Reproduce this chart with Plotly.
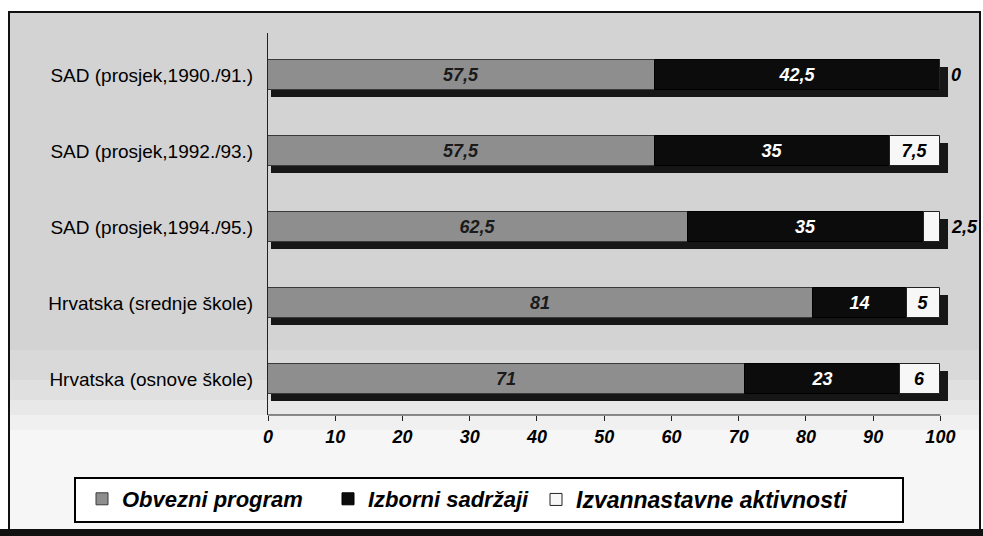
import plotly.graph_objects as go

categories = [
    "SAD (prosjek,1990./91.)",
    "SAD (prosjek,1992./93.)",
    "SAD (prosjek,1994./95.)",
    "Hrvatska (srednje škole)",
    "Hrvatska (osnove škole)",
]
obvezni = [57.5, 57.5, 62.5, 81, 71]
izborni = [42.5, 35, 35, 14, 23]
izvannastavne = [0, 7.5, 2.5, 5, 6]
series_names = ["Obvezni program", "Izborni sadržaji", "Izvannastavne aktivnosti"]
x_ticks = [0, 10, 20, 30, 40, 50, 60, 70, 80, 90, 100]

W, H = 983, 536
L, R, T, B = 268, 9, 33, 121
PW, PH = W - L - R, H - T - B

def px_x(p):
    return (p - L) / PW

def px_y(p):
    return (H - B - p) / PH

def fmt(v):
    return f"{v:g}".replace(".", ",")

FONT = "Liberation Sans, Arial, sans-serif"
totals = [a + b + c for a, b, c in zip(obvezni, izborni, izvannastavne)]
base2 = list(obvezni)
base3 = [a + b for a, b in zip(obvezni, izborni)]

FACE_OFF, FACE_W = -0.197, 0.395
SH_DY = 0.095

fig = go.Figure()

# 3D depth / shadow
fig.add_trace(go.Bar(
    y=categories, x=[t + 0.7 for t in totals], base=[0.45] * len(totals),
    orientation="h", offset=FACE_OFF + SH_DY, width=FACE_W,
    marker=dict(color="#161616", line=dict(width=0)),
    showlegend=False, hoverinfo="skip",
))

label_font = dict(family=FONT, size=18, weight="bold", style="italic")

fig.add_trace(go.Bar(
    y=categories, x=obvezni, base=[0] * len(obvezni), orientation="h",
    name=series_names[0], offset=FACE_OFF, width=FACE_W, legend="legend",
    marker=dict(color="#8e8e8e", line=dict(color="#3a3a3a", width=1)),
    text=[fmt(v) for v in obvezni], textposition="inside",
    insidetextanchor="middle", textangle=0,
    textfont=dict(color="#1a1a1a", **label_font),
))
fig.add_trace(go.Bar(
    y=categories, x=izborni, base=base2, orientation="h",
    name=series_names[1], offset=FACE_OFF, width=FACE_W, legend="legend2",
    marker=dict(color="#0c0c0c", line=dict(color="#000000", width=1)),
    text=[fmt(v) for v in izborni], textposition="inside",
    insidetextanchor="middle", textangle=0,
    textfont=dict(color="#ffffff", **label_font),
))
fig.add_trace(go.Bar(
    y=categories, x=izvannastavne, base=base3, orientation="h",
    name=series_names[2], offset=FACE_OFF, width=FACE_W, legend="legend3",
    marker=dict(color="#f7f7f7", line=dict(color="#222222", width=1)),
    text=[fmt(v) if v >= 4 else "" for v in izvannastavne], textposition="inside",
    insidetextanchor="middle", textangle=0,
    textfont=dict(color="#000000", **label_font),
))

annotations = []
for cat, v, t in zip(categories, izvannastavne, totals):
    if v < 4:
        annotations.append(dict(
            x=t, y=cat, xref="x", yref="y", text=fmt(v), showarrow=False,
            xanchor="left", xshift=9, font=dict(color="#000000", **label_font),
        ))

shapes = [
    # frame
    dict(type="rect", xref="paper", yref="paper", layer="below",
         x0=px_x(9), x1=px_x(980), y0=px_y(530), y1=px_y(12),
         fillcolor="#f6f6f6", line=dict(color="#111111", width=2)),
]
# soft fade of the grey scanned background
fade = [(430, "#f0f0f0"), (415, "#e8e8e8"), (400, "#e0e0e0"), (380, "#d9d9d9"), (350, "#d3d3d3")]
for bottom, col in fade:
    shapes.append(dict(type="rect", xref="paper", yref="paper", layer="below",
                       x0=px_x(10), x1=px_x(979), y0=px_y(bottom), y1=px_y(13),
                       fillcolor=col, line=dict(width=0)))
shapes += [
    # legend box
    dict(type="rect", xref="paper", yref="paper", layer="below",
         x0=px_x(75), x1=px_x(903), y0=px_y(522), y1=px_y(478),
         fillcolor="#ffffff", line=dict(color="#000000", width=2)),
    # bottom dark band
    dict(type="rect", xref="paper", yref="paper", layer="below",
         x0=px_x(0), x1=px_x(983), y0=px_y(536), y1=px_y(529),
         fillcolor="#111111", line=dict(width=0)),
    # x axis line from 0 to 100
    dict(type="line", xref="x", yref="paper", layer="above",
         x0=x_ticks[0], x1=x_ticks[-1], y0=0, y1=0,
         line=dict(color="#222222", width=1)),
]

def legend_at(x_px, size=22):
    return dict(
        orientation="h", xref="container", yref="container",
        x=x_px / W, y=(H - 478) / H, xanchor="left", yanchor="top",
        bgcolor="rgba(0,0,0,0)", borderwidth=0,
        font=dict(family=FONT, size=size, weight="bold", style="italic", color="#000000"),
        itemwidth=30,
    )

fig.update_layout(
    width=W, height=H,
    margin=dict(l=L, r=R, t=T, b=B, pad=0),
    paper_bgcolor="#ffffff", plot_bgcolor="rgba(0,0,0,0)",
    barmode="overlay", bargap=0,
    font=dict(family=FONT, color="#000000"),
    xaxis=dict(
        range=[0, 105], tickvals=x_ticks, ticktext=[str(v) for v in x_ticks],
        showgrid=False, zeroline=False, showline=False,
        ticks="outside", ticklen=5, tickcolor="#222222", tickwidth=1,
        tickfont=dict(family=FONT, size=18, weight="bold", style="italic", color="#000000"),
    ),
    yaxis=dict(
        categoryorder="array", categoryarray=categories,
        range=[4.474, -0.553], showgrid=False, zeroline=False,
        showline=True, linecolor="#222222", linewidth=1, ticks="",
        ticklabelstandoff=10,
        tickfont=dict(family=FONT, size=19, color="#000000"),
    ),
    legend=legend_at(82),
    legend2=legend_at(328),
    legend3=legend_at(536, 23),
    shapes=shapes, annotations=annotations,
)

fig.write_html("out.html", config={"displayModeBar": False},
               post_script="document.body.style.margin='0';")
